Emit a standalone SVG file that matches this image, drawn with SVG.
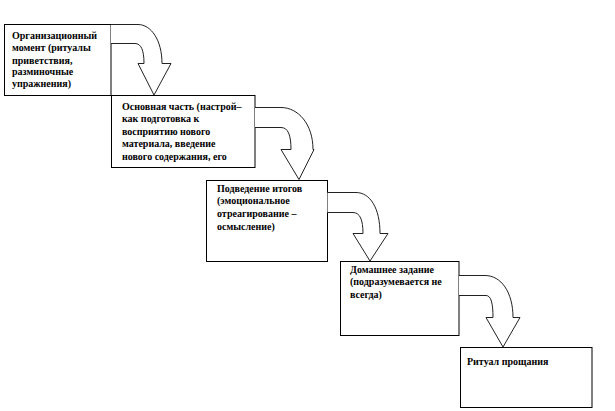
<svg xmlns="http://www.w3.org/2000/svg" width="615" height="411" viewBox="0 0 615 411">
<style>
.box{fill:#fff;stroke:#000;stroke-width:1}
.t{font-family:"Liberation Serif","Times New Roman",serif;font-weight:bold;font-size:10px;fill:#000}
.arr{fill:#fff;stroke:#222;stroke-width:1}
</style>
<rect width="615" height="411" fill="#fff"/>
<g id="node1">
<rect class="box" x="4.5" y="24.5" width="106.5" height="71"/>
<text class="t" x="12" y="39">Организационный</text>
<text class="t" x="12" y="51">момент (ритуалы</text>
<text class="t" x="12" y="63.5">приветствия,</text>
<text class="t" x="12" y="75">разминочные</text>
<text class="t" x="12" y="87">упражнения)</text>
</g>
<g id="node2">
<rect class="box" x="111.5" y="95.5" width="143.5" height="72"/>
<text class="t" x="122" y="109.5">Основная часть (настрой–</text>
<text class="t" x="122" y="122">как подготовка к</text>
<text class="t" x="122" y="134.5">восприятию нового</text>
<text class="t" x="122" y="147">материала, введение</text>
<text class="t" x="122" y="159.5">нового содержания, его</text>
</g>
<g id="node3">
<rect class="box" x="206.5" y="180.5" width="121" height="81"/>
<text class="t" x="217" y="191.5">Подведение итогов</text>
<text class="t" x="217" y="204">(эмоциональное</text>
<text class="t" x="217" y="217">отреагирование –</text>
<text class="t" x="217" y="229.5">осмысление)</text>
</g>
<g id="node4">
<rect class="box" x="340.5" y="261.5" width="118.5" height="74"/>
<text class="t" x="350" y="272.5">Домашнее задание</text>
<text class="t" x="350" y="285">(подразумевается не</text>
<text class="t" x="350" y="297.5">всегда)</text>
</g>
<g id="node5">
<rect class="box" x="460.5" y="347.5" width="131.5" height="60"/>
<text class="t" x="467" y="364.5">Ритуал прощания</text>
</g>
<g id="connectors">
<path class="arr" d="M111,24.5 H138 C151,24.5 162,40 162,63.5 H171 L154,95 L138,63.5 H144 C144,50 141,43.5 135,43.5 H111"/>
<path class="arr" d="M255,107.5 H281 C298,107.5 313,124 313,149.5 H314 L299,179.5 L281,149.5 H291 C291,135 288,127.5 281,127.5 H255"/>
<path class="arr" d="M327.5,192.5 H356 C370,192.5 380,208 380,233.5 H388 L370,261 L353,233.5 H363 C363,220 360,212.5 353,212.5 H327.5"/>
<path class="arr" d="M459,275.5 H485 C501,275.5 513,292 513,317.5 H520 L503,347 L486,317.5 H493 C493,303 491,295.5 486,295.5 H459"/>
</g>
</svg>
